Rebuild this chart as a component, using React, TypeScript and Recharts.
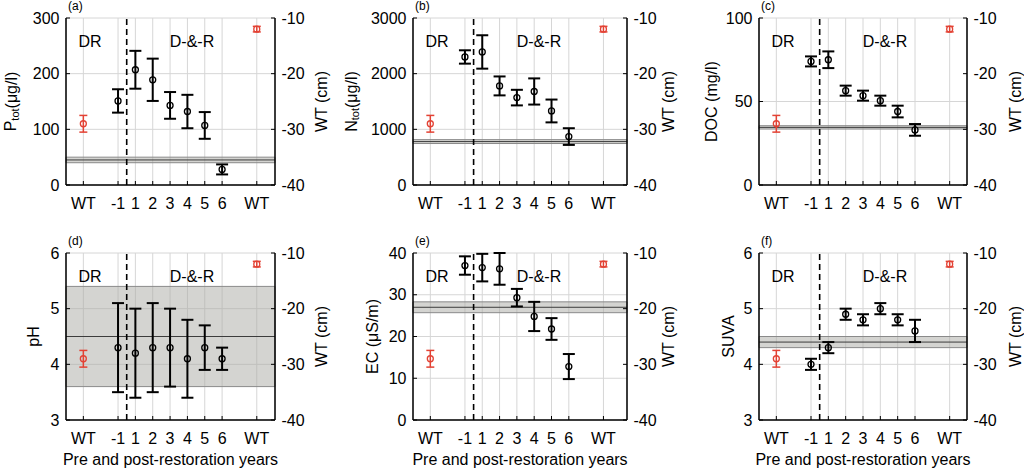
import React from 'react';
import {
  ScatterChart,
  Scatter,
  XAxis,
  YAxis,
  CartesianGrid,
  ErrorBar,
  ReferenceLine,
  ReferenceArea,
  Label,
} from 'recharts';

const FONT = 'Arial, "Liberation Sans", Helvetica, sans-serif';
const RED = '#e34234';
const MU = '\u03bc';

// ---------- categories / ticks ----------
const xTicks = [1, 3, 4, 5, 6, 7, 8, 9, 11];
const xTickLabels = ['WT', '-1', '1', '2', '3', '4', '5', '6', 'WT'];
const yearX = [3, 4, 5, 6, 7, 8, 9];
const wtX = [1, 11];
const restorationStart = 3.5;

// ---------- water table (right axis, cm) ----------
const wtMeans = [-29, -12];
const wtErrors = [1.5, 0.5];
const wtTicks = [-40, -30, -20, -10];

// ---------- (a) Ptot ----------
const ptotMeans = [151, 207, 189, 143, 132, 107, 28];
const ptotErrors = [21, 34, 38, 24, 30, 24, 9];
const ptotRef = [45, 5];
const ptotTicks = [0, 100, 200, 300];

// ---------- (b) Ntot ----------
const ntotMeans = [2300, 2390, 1780, 1570, 1680, 1330, 870];
const ntotErrors = [120, 300, 170, 140, 235, 205, 150];
const ntotRef = [780, 35];
const ntotTicks = [0, 1000, 2000, 3000];

// ---------- (c) DOC ----------
const docMeans = [74, 75, 56.5, 53.5, 50.5, 44, 33];
const docErrors = [3, 5, 3, 3, 3, 3.5, 3.5];
const docRef = [34.5, 1];
const docTicks = [0, 50, 100];

// ---------- (d) pH ----------
const phMeans = [4.3, 4.2, 4.3, 4.3, 4.1, 4.3, 4.1];
const phErrors = [0.8, 0.8, 0.8, 0.7, 0.7, 0.4, 0.2];
const phRef = [4.5, 0.9];
const phTicks = [3, 4, 5, 6];

// ---------- (e) EC ----------
const ecMeans = [37, 36.5, 36.2, 29.3, 24.8, 21.8, 12.8];
const ecErrors = [2.2, 3.3, 3.8, 2.1, 3.5, 2.6, 3];
const ecRef = [27, 1.3];
const ecTicks = [0, 10, 20, 30, 40];

// ---------- (f) SUVA ----------
const suvaMeans = [4.0, 4.3, 4.9, 4.8, 5.0, 4.8, 4.6];
const suvaErrors = [0.1, 0.1, 0.1, 0.1, 0.1, 0.1, 0.2];
const suvaRef = [4.4, 0.1];
const suvaTicks = [3, 4, 5, 6];

type Title = { main: string; sub?: string; rest?: string };

type PanelCfg = {
  tag: string;
  means: number[];
  errors: number[];
  refBand: number[];
  ticks: number[];
  title: Title;
  left: number;
  top: number;
  width: number;
  height: number;
  plotLeft: number;
  plotRight: number;
  plotTop: number;
  plotBottom: number;
  xMax: number;
  titleX: number;
  wtTitleX: number;
  xTitle: boolean;
};

const topRow = { top: 0, height: 230, plotTop: 18, plotBottom: 185 };
const botRow = { top: 230, height: 241, plotTop: 253, plotBottom: 420 };
const col1 = { left: 0, width: 340, plotLeft: 66, plotRight: 275, xMax: 12.05, wtTitleX: 321.8 };
const col2 = { left: 340, width: 340, plotLeft: 413, plotRight: 627, xMax: 12.36, wtTitleX: 668.5 };
const col3 = { left: 680, width: 344, plotLeft: 759, plotRight: 967, xMax: 12, wtTitleX: 1015.5 };

const panels: PanelCfg[] = [
  { tag: '(a)', means: ptotMeans, errors: ptotErrors, refBand: ptotRef, ticks: ptotTicks,
    title: { main: 'P', sub: 'tot', rest: `(${MU}g/l)` }, ...topRow, ...col1, titleX: 10.5, xTitle: false },
  { tag: '(b)', means: ntotMeans, errors: ntotErrors, refBand: ntotRef, ticks: ntotTicks,
    title: { main: 'N', sub: 'tot', rest: `(${MU}g/l)` }, ...topRow, ...col2, titleX: 351, xTitle: false },
  { tag: '(c)', means: docMeans, errors: docErrors, refBand: docRef, ticks: docTicks,
    title: { main: 'DOC (mg/l)' }, ...topRow, ...col3, titleX: 711, xTitle: false },
  { tag: '(d)', means: phMeans, errors: phErrors, refBand: phRef, ticks: phTicks,
    title: { main: 'pH' }, ...botRow, ...col1, titleX: 33, xTitle: true },
  { tag: '(e)', means: ecMeans, errors: ecErrors, refBand: ecRef, ticks: ecTicks,
    title: { main: `EC (${MU}S/m)` }, ...botRow, ...col2, titleX: 372, xTitle: true },
  { tag: '(f)', means: suvaMeans, errors: suvaErrors, refBand: suvaRef, ticks: suvaTicks,
    title: { main: 'SUVA' }, ...botRow, ...col3, titleX: 728.5, xTitle: true },
];

const ring = (color: string) => (props: any) => (
  <circle cx={props.cx} cy={props.cy} r={3} fill="none" stroke={color} strokeWidth={1.3} />
);

function Panel({ cfg }: { cfg: PanelCfg }) {
  const leftW = cfg.plotLeft - cfg.left;
  const rightW = cfg.left + cfg.width - cfg.plotRight;
  const marginTop = cfg.plotTop - cfg.top;
  const xH = cfg.top + cfg.height - cfg.plotBottom;
  const pl = cfg.plotLeft - cfg.left;
  const pr = cfg.plotRight - cfg.left;
  const pt = marginTop;
  const pb = cfg.plotBottom - cfg.top;
  const cy = (pt + pb) / 2;

  const yearData = yearX.map((x, i) => ({ x, y: cfg.means[i], err: cfg.errors[i] }));
  const wtData = wtX.map((x, i) => ({ x, y: wtMeans[i], err: wtErrors[i] }));
  const yMin = cfg.ticks[0];
  const yMax = cfg.ticks[cfg.ticks.length - 1];
  const [refMean, refHalf] = cfg.refBand;

  const tickStyle = { fill: '#000', fontSize: 16, fontFamily: FONT };

  const leftTitle = () => {
    const x = cfg.titleX - cfg.left;
    const t = cfg.title;
    return (
      <text x={x} y={cy} transform={`rotate(-90 ${x} ${cy})`} textAnchor="middle"
        dominantBaseline="central" fontSize={16} fontFamily={FONT} fill="#000">
        {t.main}
        {t.sub ? <tspan dy={4} fontSize={11}>{t.sub}</tspan> : null}
        {t.sub ? <tspan dy={-4}>{t.rest}</tspan> : null}
      </text>
    );
  };
  const rightTitle = () => {
    const x = cfg.wtTitleX - cfg.left;
    return (
      <text x={x} y={cy} transform={`rotate(-90 ${x} ${cy})`} textAnchor="middle"
        dominantBaseline="central" fontSize={16} fontFamily={FONT} fill="#000">
        WT (cm)
      </text>
    );
  };
  const xTexts = () => (
    <g fontFamily={FONT} fill="#000">
      <text x={pl + 2} y={pt - 8} fontSize={12}>{cfg.tag}</text>
      <text x={pl + 24} y={pt + 29} fontSize={16} textAnchor="middle">DR</text>
      <text x={pl + 126} y={pt + 29} fontSize={16} textAnchor="middle">D-&amp;-R</text>
      {cfg.xTitle ? (
        <text x={(pl + pr) / 2} y={cfg.height - 6} textAnchor="middle" fontSize={16}>
          Pre and post-restoration years
        </text>
      ) : null}
    </g>
  );

  return (
    <div style={{ position: 'absolute', left: cfg.left, top: cfg.top, width: cfg.width, height: cfg.height }}>
      <ScatterChart width={cfg.width} height={cfg.height} margin={{ top: marginTop, right: 0, bottom: 0, left: 0 }}>
        <CartesianGrid yAxisId="left" stroke="#d6d6d6" strokeWidth={1} />
        <XAxis
          type="number"
          dataKey="x"
          domain={[0, cfg.xMax]}
          ticks={xTicks}
          allowDataOverflow
          interval={0}
          height={xH}
          tickFormatter={(v: number) => xTickLabels[xTicks.indexOf(v)] ?? ''}
          tick={tickStyle}
          tickSize={-4}
          tickMargin={17}
          tickLine={{ stroke: '#000' }}
          axisLine={{ stroke: '#000', strokeWidth: 1.5 }}
        >
          <Label content={xTexts} />
        </XAxis>
        <YAxis
          yAxisId="left"
          type="number"
          dataKey="y"
          domain={[yMin, yMax]}
          ticks={cfg.ticks}
          allowDataOverflow
          interval={0}
          width={leftW}
          tick={tickStyle}
          tickSize={-4}
          tickMargin={10.5}
          tickLine={{ stroke: '#000' }}
          axisLine={{ stroke: '#000', strokeWidth: 1.5 }}
        >
          <Label content={leftTitle} />
        </YAxis>
        <YAxis
          yAxisId="right"
          orientation="right"
          type="number"
          dataKey="y"
          domain={[-40, -10]}
          ticks={wtTicks}
          allowDataOverflow
          interval={0}
          width={rightW}
          tick={tickStyle}
          tickSize={-4}
          tickMargin={10.5}
          tickLine={{ stroke: '#000' }}
          axisLine={{ stroke: '#000', strokeWidth: 1.5 }}
        >
          <Label content={rightTitle} />
        </YAxis>
        <ReferenceArea
          yAxisId="left"
          y1={refMean - refHalf}
          y2={refMean + refHalf}
          fill="#a9a9a3"
          fillOpacity={0.5}
          stroke="#8a8a8a"
          strokeWidth={1}
        />
        <ReferenceLine yAxisId="left" y={refMean} stroke="#3c3c3c" strokeWidth={1} />
        <ReferenceLine yAxisId="left" x={restorationStart} stroke="#000" strokeWidth={1.6} strokeDasharray="6 4" />
        <Scatter yAxisId="left" data={yearData} isAnimationActive={false} shape={ring('#000')}>
          <ErrorBar dataKey="err" direction="y" width={6} stroke="#000" strokeWidth={2} isAnimationActive={false} />
        </Scatter>
        <Scatter yAxisId="right" data={wtData} isAnimationActive={false} shape={ring(RED)}>
          <ErrorBar dataKey="err" direction="y" width={4} stroke={RED} strokeWidth={1.5} isAnimationActive={false} />
        </Scatter>
        <ReferenceArea yAxisId="left" fill="none" stroke="#000" strokeWidth={1.5} />
      </ScatterChart>
    </div>
  );
}

export default function App() {
  return (
    <div
      style={{
        position: 'absolute',
        left: 0,
        top: 0,
        width: 1024,
        height: 471,
        background: '#fff',
        overflow: 'hidden',
        fontFamily: FONT,
      }}
    >
      {panels.map((p) => (
        <Panel key={p.tag} cfg={p} />
      ))}
    </div>
  );
}
